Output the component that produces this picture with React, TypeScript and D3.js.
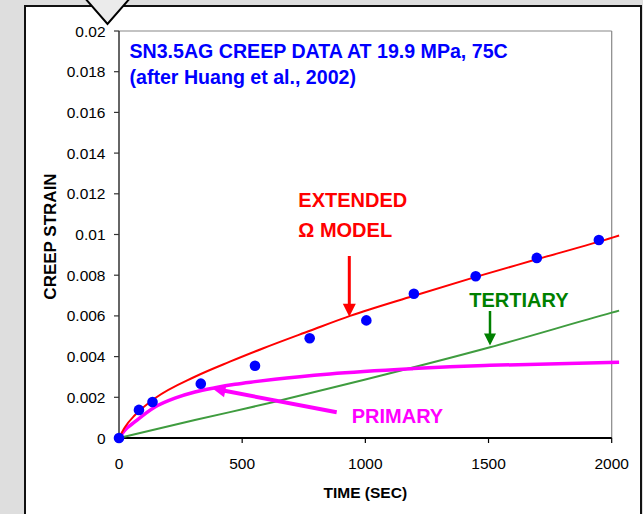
import React from "react";
import * as d3 from "d3";

const dataTime = [0, 81, 136, 332, 552, 774, 1004, 1197, 1448, 1696, 1948];
const dataStrain = [0, 0.00138, 0.00177, 0.00267, 0.00355, 0.0049, 0.00578, 0.00709, 0.00795, 0.00885, 0.00973];

const modelTime = [0, 24, 65, 146, 308, 450, 586, 775, 938, 1194, 1452, 1696, 2006, 2030];
const modelStrain = [0, 0.00053, 0.00113, 0.00195, 0.00301, 0.00375, 0.00441, 0.00527, 0.006, 0.00698, 0.00793, 0.00878, 0.00986, 0.00995];

const primaryTime = [0, 24, 65, 146, 230, 308, 390, 471, 552, 633, 856, 1194, 1343, 1506, 2030];
const primaryStrain = [0, 0.00039, 0.0008, 0.00152, 0.00197, 0.00226, 0.00247, 0.00264, 0.00277, 0.00289, 0.00315, 0.00341, 0.0035, 0.00357, 0.00372];

const tertiaryTime = [0, 308, 633, 992, 1506, 2000, 2030];
const tertiaryStrain = [0, 0.00088, 0.00178, 0.00285, 0.00446, 0.00616, 0.00626];

const yTicks = [0, 0.002, 0.004, 0.006, 0.008, 0.01, 0.012, 0.014, 0.016, 0.018, 0.02];
const yTickLabels = ["0", "0.002", "0.004", "0.006", "0.008", "0.01", "0.012", "0.014", "0.016", "0.018", "0.02"];
const xTicks = [0, 500, 1000, 1500, 2000];
const xTickLabels = ["0", "500", "1000", "1500", "2000"];

const titleLines = ["SN3.5AG CREEP DATA AT 19.9 MPa, 75C", "(after Huang et al., 2002)"];
const xTitle = "TIME (SEC)";
const yTitle = "CREEP STRAIN";

const FONT = "'Liberation Sans', Arial, sans-serif";

export default function App() {
  const W = 643, H = 514;
  const x = d3.scaleLinear().domain([0, 2000]).range([119, 611.7]);
  const y = d3.scaleLinear().domain([0, 0.02]).range([438, 31]);

  const mk = (ts: number[], vs: number[]) =>
    d3.line<number>().x((_, i) => x(ts[i])).y((v) => y(v)).curve(d3.curveMonotoneX)(vs) || "";

  const arrowHead = (tx: number, ty: number, angle: number, len: number, hw: number) => {
    const ca = Math.cos(angle), sa = Math.sin(angle);
    const bx = tx - len * ca, by = ty - len * sa;
    return `M${tx},${ty} L${bx - hw * sa},${by + hw * ca} L${bx + hw * sa},${by - hw * ca} Z`;
  };

  const magAngle = Math.atan2(388.5 - 412.3, 212.5 - 336.7);

  return (
    <svg width={W} height={H} style={{ position: "absolute", left: 0, top: 0 }} fontFamily={FONT}>
      <rect x={0} y={0} width={W} height={H} fill="#dedede" />
      <rect x={25} y={6} width={616} height={530} fill="#ffffff" stroke="#111" strokeWidth={2} />
      <polygon points="84,-3 131,-3 107.5,24" fill="#ebebeb" stroke="#000" strokeWidth={2} />

      {/* plot frame */}
      <line x1={x(0)} x2={x(2000)} y1={y(0.02)} y2={y(0.02)} stroke="#888" strokeWidth={1.2} />
      <line x1={x(2000)} x2={x(2000)} y1={y(0.02)} y2={y(0)} stroke="#888" strokeWidth={1.2} />
      <line x1={x(0)} x2={x(0)} y1={y(0.02)} y2={y(0)} stroke="#333" strokeWidth={1.5} />
      <line x1={x(0)} x2={x(2000)} y1={y(0)} y2={y(0)} stroke="#000" strokeWidth={1.8} />

      {yTicks.map((t, i) => (
        <g key={"y" + i}>
          <line x1={x(0) - 5} x2={x(0)} y1={y(t)} y2={y(t)} stroke="#333" strokeWidth={1.2} />
          <text x={105.5} y={y(t)} dy="0.36em" textAnchor="end" fontSize={15.5} fill="#000">
            {yTickLabels[i]}
          </text>
        </g>
      ))}
      {xTicks.map((t, i) => (
        <g key={"x" + i}>
          <line x1={x(t)} x2={x(t)} y1={y(0)} y2={y(0) + 5} stroke="#000" strokeWidth={1.2} />
          <text x={x(t)} y={469} textAnchor="middle" fontSize={15.5} fill="#000">
            {xTickLabels[i]}
          </text>
        </g>
      ))}

      <text x={365.3} y={498} textAnchor="middle" fontSize={15.5} fontWeight="bold" fill="#000">{xTitle}</text>
      <text transform="translate(56,236.5) rotate(-90)" textAnchor="middle" fontSize={17} fontWeight="bold" fill="#000">{yTitle}</text>

      {/* curves */}
      <path d={mk(tertiaryTime, tertiaryStrain)} fill="none" stroke="#3f9c3f" strokeWidth={2} />
      <path d={mk(primaryTime, primaryStrain)} fill="none" stroke="#ff00ff" strokeWidth={3.5} />
      <path d={mk(modelTime, modelStrain)} fill="none" stroke="#ff0000" strokeWidth={2} />

      {dataStrain.map((v, i) => (
        <circle key={"p" + i} cx={x(dataTime[i])} cy={y(v)} r={5.3} fill="#0000ff" />
      ))}

      {/* title */}
      <text x={129.5} y={58} fontSize={19.6} fontWeight="bold" fill="#0000ff">{titleLines[0]}</text>
      <text x={129.5} y={84} fontSize={19.6} fontWeight="bold" fill="#0000ff">{titleLines[1]}</text>

      {/* extended model annotation */}
      <text x={298.3} y={207} fontSize={20} fontWeight="bold" fill="#ff0000">EXTENDED</text>
      <text x={298.3} y={237.3} fontSize={20} fontWeight="bold" fill="#ff0000">Ω MODEL</text>
      <line x1={349.3} x2={349.3} y1={256} y2={306} stroke="#ff0000" strokeWidth={3} />
      <path d={arrowHead(349.3, 316.7, Math.PI / 2, 13, 6.5)} fill="#ff0000" />

      {/* tertiary annotation */}
      <text x={469.3} y={307} fontSize={20} fontWeight="bold" fill="#008000">TERTIARY</text>
      <line x1={490} x2={490} y1={311} y2={336} stroke="#008000" strokeWidth={2.5} />
      <path d={arrowHead(490, 345.5, Math.PI / 2, 12, 6)} fill="#008000" />

      {/* primary annotation */}
      <text x={351.7} y={423.3} fontSize={20} fontWeight="bold" fill="#ff00ff">PRIMARY</text>
      <line x1={336.7} y1={412.3} x2={222} y2={390.3} stroke="#ff00ff" strokeWidth={4} />
      <path d={arrowHead(212.5, 388.5, magAngle, 13, 6.5)} fill="#ff00ff" />
    </svg>
  );
}
